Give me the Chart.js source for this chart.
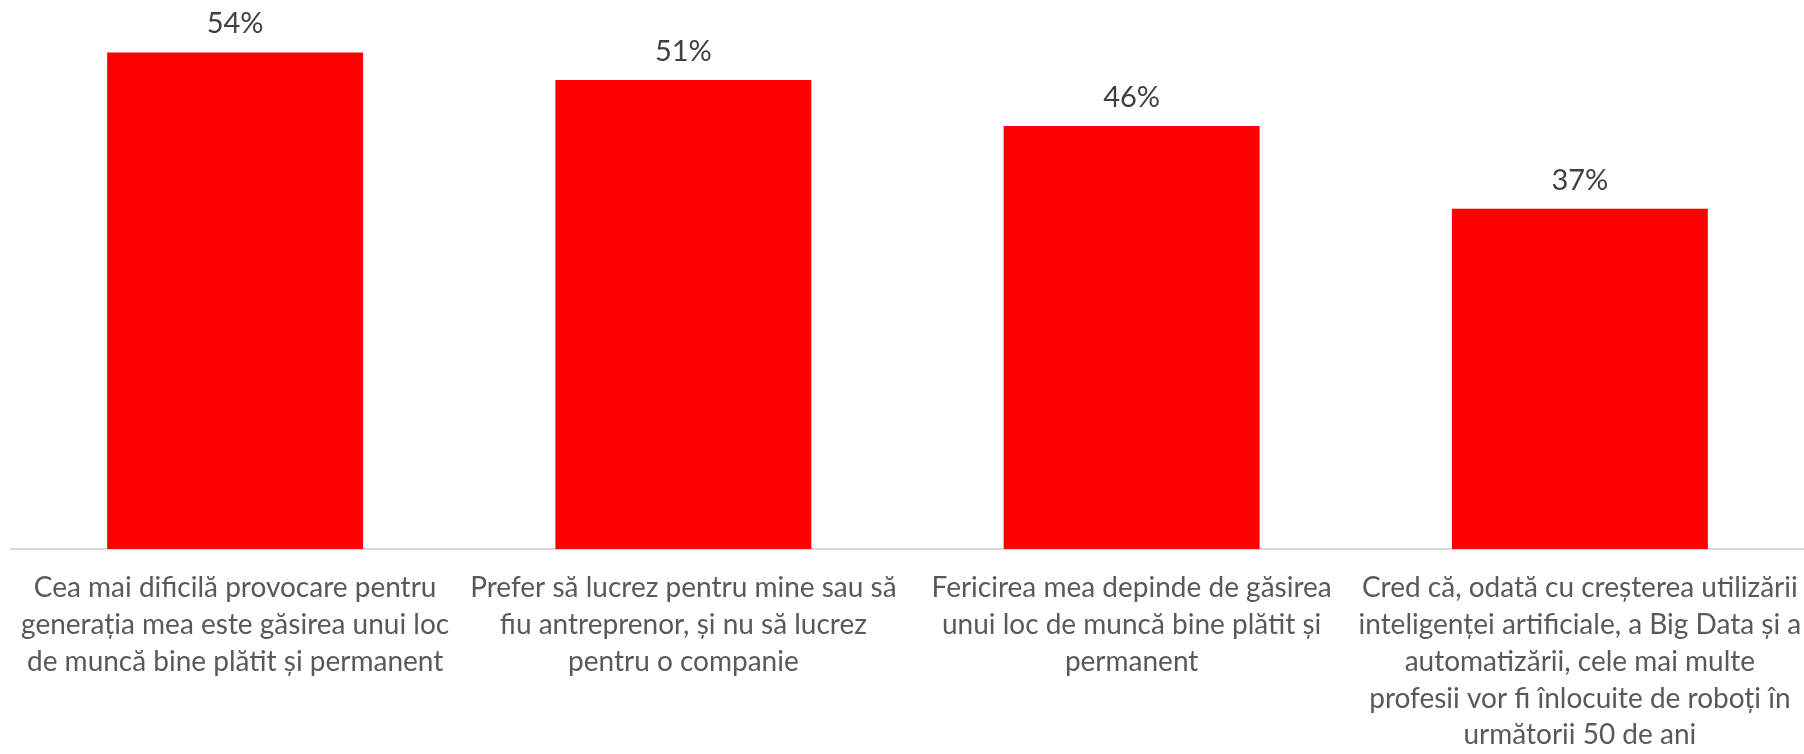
<!DOCTYPE html>
<html>
<head>
<meta charset="utf-8">
<script src="https://cdn.jsdelivr.net/npm/chart.js@4"></script>
<style>
  html, body { margin: 0; padding: 0; background: #fff; }
  #wrap { width: 1804px; height: 754px; position: relative; }
</style>
</head>
<body>
<div id="wrap"><canvas id="chart"></canvas></div>
<script>
// DATA
const categories = [
  ["Cea mai dificilă provocare pentru", "generația mea este găsirea unui loc", "de muncă bine plătit și permanent"],
  ["Prefer să lucrez pentru mine sau să", "fiu antreprenor, și nu să lucrez", "pentru o companie"],
  ["Fericirea mea depinde de găsirea", "unui loc de muncă bine plătit și", "permanent"],
  ["Cred că, odată cu creșterea utilizării", "inteligenței artificiale, a Big Data și a", "automatizării, cele mai multe", "profesii vor fi înlocuite de roboți în", "următorii 50 de ani"]
];
const values = [54, 51, 46, 37];
const valueLabels = ["54%", "51%", "46%", "37%"];

const FONT = "Lato, 'Open Sans', sans-serif";

// value labels above each bar
const barLabels = {
  id: "barLabels",
  afterDatasetsDraw(chart) {
    const ctx = chart.ctx;
    const meta = chart.getDatasetMeta(0);
    ctx.save();
    ctx.font = "29px " + FONT;
    ctx.fillStyle = "#404040";
    ctx.textAlign = "center";
    ctx.textBaseline = "alphabetic";
    meta.data.forEach((bar, i) => {
      ctx.fillText(valueLabels[i], bar.x, bar.y - 19);
    });
    ctx.restore();
  }
};

new Chart(document.getElementById("chart"), {
  type: "bar",
  data: {
    labels: categories,
    datasets: [
      {
        data: values,
        backgroundColor: "#ff0000",
        borderWidth: 0,
        categoryPercentage: 1,
        barPercentage: 0.571,
      },
    ],
  },
  options: {
    responsive: true,
    maintainAspectRatio: false,
    animation: false,
    layout: { padding: { left: 11, right: 0, top: 0, bottom: 0 } },
    plugins: {
      legend: { display: false },
      tooltip: { enabled: false },
    },
    scales: {
      x: {
        grid: { display: false, drawTicks: false },
        border: { display: true, color: "#d9d9d9", width: 2 },
        ticks: {
          color: "#595959",
          font: { family: FONT, size: 28, lineHeight: 36.75 / 28 },
          padding: 21,
          maxRotation: 0,
          minRotation: 0,
          autoSkip: false,
        },
        afterFit(scale) {
          // labels are wrapped by hand, keep the axis box fixed
          scale.height = 205;
          scale.paddingLeft = 0;
          scale.paddingRight = 0;
          scale.paddingTop = 0;
          scale.paddingBottom = 0;
        },
      },
      y: {
        display: false,
        min: 0,
        max: 59.7, // original plot area is cut a little at the top
      },
    },
  },
  plugins: [barLabels],
});
</script>
</body>
</html>
